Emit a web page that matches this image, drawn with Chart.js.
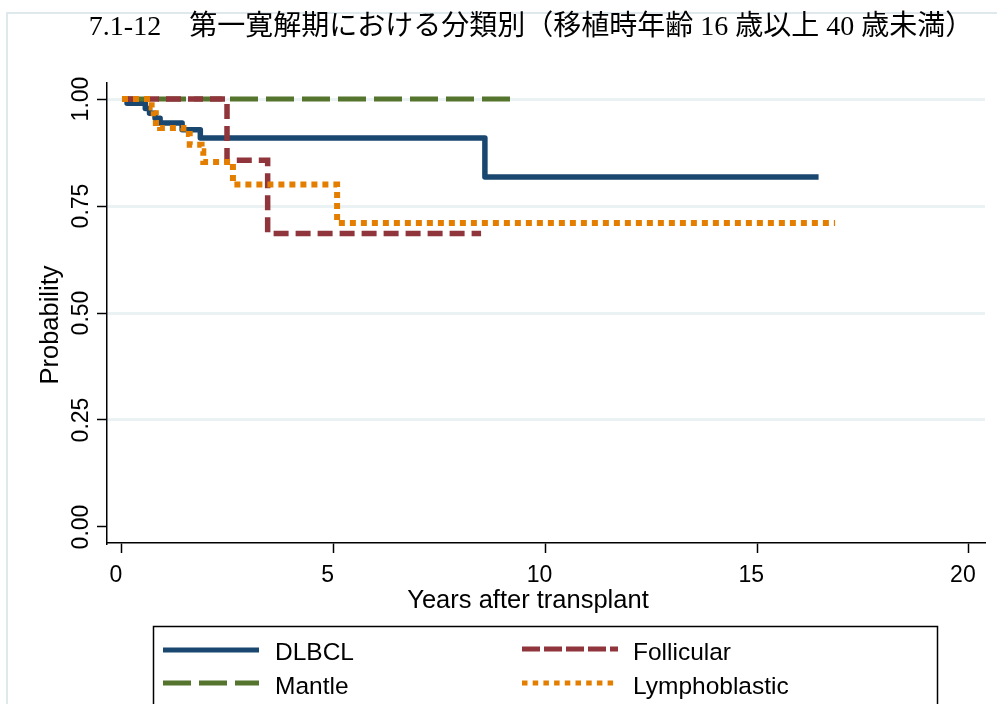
<!DOCTYPE html>
<html><head><meta charset="utf-8">
<script src="https://cdn.jsdelivr.net/npm/chart.js@4.4.1/dist/chart.umd.min.js"></script>
<style>html,body{margin:0;padding:0;background:#fff;}canvas{display:block;}</style>
</head><body>
<canvas id="c" width="997" height="704"></canvas>
<script>
// ---- text ----
const titleText = "7.1-12\u3000第一寛解期における分類別（移植時年齢 16 歳以上 40 歳未満）";
const xAxisTitle = "Years after transplant";
const yAxisTitle = "Probability";
const seriesNames = ["DLBCL", "Mantle", "Follicular", "Lymphoblastic"];
const xTicks = [0, 5, 10, 15, 20];
const yTicks = [0, 0.25, 0.5, 0.75, 1];
const yTickLabels = ["0.00", "0.25", "0.50", "0.75", "1.00"];

// ---- Kaplan-Meier step data (time in years, survival probability) ----
const dlbclTime = [0, 0.12, 0.55, 0.65, 0.78, 0.9, 1.42, 1.85, 8.57, 16.45];
const dlbclSurv = [1, 0.99, 0.978, 0.967, 0.955, 0.944, 0.928, 0.909, 0.818, 0.818];
const mantleTime = [0, 9.3];
const mantleSurv = [1, 1];
const follicularTime = [0, 2.48, 3.44, 8.48];
const follicularSurv = [1, 0.857, 0.686, 0.686];
const lymphoTime = [0, 0.7, 0.75, 0.8, 0.9, 1.45, 1.6, 1.88, 1.92, 2.62, 5.08, 16.84];
const lymphoSurv = [1, 0.98, 0.967, 0.944, 0.932, 0.918, 0.893, 0.878, 0.853, 0.80, 0.71, 0.71];

const colors = ["#1a476f", "#55752f", "#90353b", "#e37e00"];
const plotDash = [[], [28, 8], [15, 7], [6, 5]];
const legendDash = [[], [28, 8], [18, 4], [5.5, 5.2]];

function pts(t, s) { return t.map((v, i) => ({ x: v, y: s[i] })); }

const datasets = [
  { label: seriesNames[0], data: pts(dlbclTime, dlbclSurv), borderColor: colors[0], borderWidth: 5.5, borderDash: plotDash[0], borderJoinStyle: 'round', order: 4 },
  { label: seriesNames[1], data: pts(mantleTime, mantleSurv), borderColor: colors[1], borderWidth: 5, borderDash: plotDash[1], order: 3 },
  { label: seriesNames[2], data: pts(follicularTime, follicularSurv), borderColor: colors[2], borderWidth: 5.5, borderDash: plotDash[2], order: 2 },
  { label: seriesNames[3], data: pts(lymphoTime, lymphoSurv), borderColor: colors[3], borderWidth: 6, borderDash: plotDash[3], order: 1 }
].map(d => Object.assign(d, { stepped: true, pointRadius: 0, fill: false, borderCapStyle: 'butt', tension: 0 }));

const SANS = '"Liberation Sans", Arial, sans-serif';

const decor = {
  id: 'decor',
  beforeDraw(chart) {
    const ctx = chart.ctx;
    ctx.save();
    ctx.fillStyle = '#fff';
    ctx.fillRect(0, 0, chart.width, chart.height);
    ctx.strokeStyle = '#dfe8ec';
    ctx.lineWidth = 2;
    ctx.strokeRect(7, 13, 1010, 720);
    ctx.restore();
  },
  afterDraw(chart) {
    const ctx = chart.ctx;
    ctx.save();
    // title
    ctx.fillStyle = '#000';
    ctx.font = '28px "Liberation Serif", "Noto Sans CJK JP", serif';
    ctx.textAlign = 'center';
    ctx.textBaseline = 'middle';
    ctx.fillText(titleText, 531, 28);
    // axis titles
    ctx.font = '25.5px ' + SANS;
    ctx.fillText(xAxisTitle, 528, 601);
    ctx.save();
    ctx.translate(51, 325);
    ctx.rotate(-Math.PI / 2);
    ctx.fillText(yAxisTitle, 0, 0);
    ctx.restore();
    // legend box
    ctx.strokeStyle = '#000';
    ctx.lineWidth = 1.5;
    ctx.strokeRect(153.5, 626.5, 784, 120);
    const items = [
      { i: 0, x: 163, y: 650, tx: 275, ty: 653 },
      { i: 1, x: 163, y: 683, tx: 275, ty: 687 },
      { i: 2, x: 522, y: 649, tx: 633, ty: 653 },
      { i: 3, x: 522, y: 683, tx: 633, ty: 687 }
    ];
    items.forEach(it => {
      ctx.save();
      ctx.strokeStyle = colors[it.i];
      ctx.lineWidth = 5;
      ctx.lineCap = 'butt';
      ctx.setLineDash(legendDash[it.i]);
      ctx.beginPath();
      ctx.moveTo(it.x, it.y);
      ctx.lineTo(it.x + 96, it.y);
      ctx.stroke();
      ctx.restore();
      ctx.fillStyle = '#000';
      ctx.font = '24.5px ' + SANS;
      ctx.textAlign = 'left';
      ctx.textBaseline = 'middle';
      ctx.fillText(seriesNames[it.i], it.tx, it.ty);
    });
    ctx.restore();
  }
};

new Chart(document.getElementById('c'), {
  type: 'line',
  data: { datasets },
  options: {
    responsive: false,
    devicePixelRatio: 1,
    animation: false,
    events: [],
    layout: { padding: { top: 83, right: 12, left: 0, bottom: 0 } },
    plugins: { legend: { display: false }, title: { display: false }, tooltip: { enabled: false } },
    scales: {
      x: {
        type: 'linear',
        min: -0.354,
        max: 20.38,
        afterBuildTicks: s => { s.ticks = xTicks.map(v => ({ value: v })); },
        afterFit: s => { s.height = 161; },
        ticks: { callback: v => String(v), color: '#000', font: { family: SANS, size: 23 }, padding: 9, labelOffset: -6, maxRotation: 0, minRotation: 0, autoSkip: false },
        grid: { drawOnChartArea: false, tickLength: 10, tickColor: '#000', tickWidth: 1.5 },
        border: { color: '#000', width: 1.5 }
      },
      y: {
        type: 'linear',
        min: -0.0374,
        max: 1.0374,
        afterBuildTicks: s => { s.ticks = yTicks.map(v => ({ value: v })); },
        afterFit: s => { s.width = 107; },
        ticks: { callback: v => yTickLabels[yTicks.indexOf(v)], color: '#000', font: { family: SANS, size: 23 }, minRotation: 90, maxRotation: 90, crossAlign: 'center', padding: -7, autoSkip: false },
        grid: {
          color: c => (c.tick && c.tick.value === 0) ? 'rgba(0,0,0,0)' : '#eaf2f3',
          lineWidth: 3,
          tickLength: 10, tickColor: '#000', tickWidth: 1.5
        },
        border: { color: '#000', width: 1.5 }
      }
    }
  },
  plugins: [decor]
});
</script>
</body></html>
